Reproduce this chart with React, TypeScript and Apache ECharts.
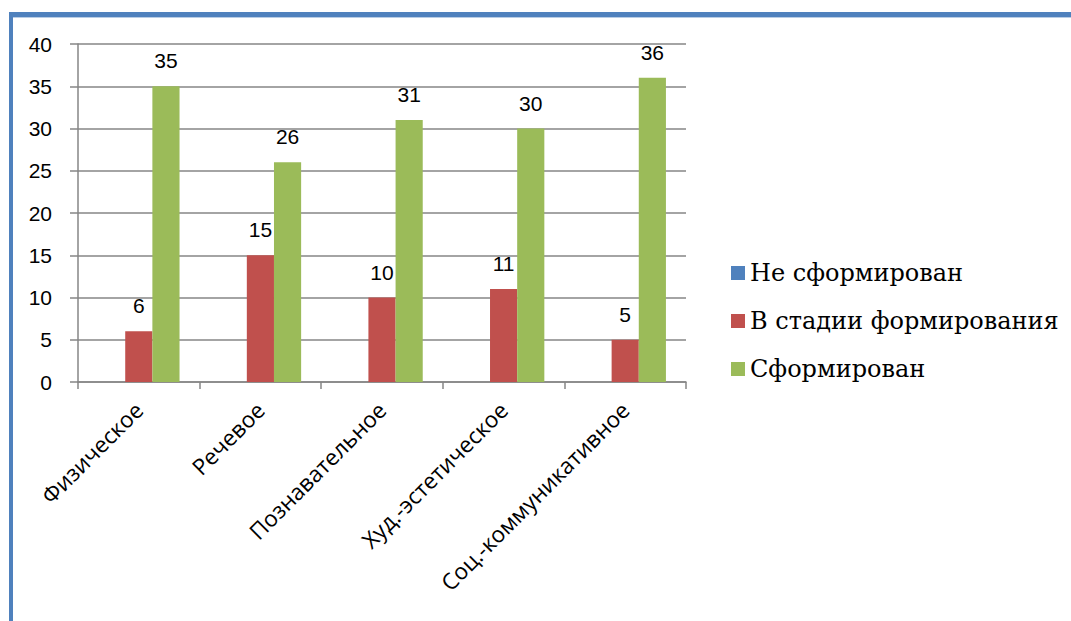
import React, { useEffect, useRef } from "react";
import * as echarts from "echarts";

const categories = ["Физическое", "Речевое", "Познавательное", "Худ.-эстетическое", "Соц.-коммуникативное"];
const seriesNames = ["Не сформирован", "В стадии формирования", "Сформирован"];
const notFormed = [0, 0, 0, 0, 0];
const inProgress = [6, 15, 10, 11, 5];
const formed = [35, 26, 31, 30, 36];
const colors = ["#4F81BD", "#C0504D", "#9BBB59"];

export default function App() {
  const ref = useRef<HTMLDivElement>(null);
  useEffect(() => {
    document.body.style.margin = "0";
    const chart = echarts.init(ref.current!, null, { renderer: "svg" });
    const axisFont = "Liberation Sans";
    const legendFont = "DejaVu Serif";
    const label = (show: boolean) => ({
      show,
      position: "top",
      distance: 15,
      color: "#000",
      fontFamily: axisFont,
      fontSize: 21,
    });
    chart.setOption({
      animation: false,
      backgroundColor: "#fff",
      color: colors,
      grid: { left: 78, right: 385, top: 44, bottom: 239, containLabel: false },
      legend: {
        orient: "vertical",
        left: 726,
        top: 253,
        itemWidth: 14,
        itemHeight: 14,
        itemGap: 18,
        icon: "rect",
        data: seriesNames,
        textStyle: { fontFamily: legendFont, fontSize: 24, color: "#000", lineHeight: 30 },
      },
      xAxis: {
        type: "category",
        data: categories,
        axisLine: { lineStyle: { color: "#868686", width: 1.5 } },
        axisTick: { show: true, length: 7, lineStyle: { color: "#868686", width: 1.5 } },
        axisLabel: { rotate: 45, margin: 24, color: "#000", fontFamily: "Open Sans", fontSize: 22.5, interval: 0 },
      },
      yAxis: {
        type: "value",
        min: 0,
        max: 40,
        interval: 5,
        axisLine: { show: true, lineStyle: { color: "#868686", width: 1.5 } },
        axisTick: { show: true, length: 8, lineStyle: { color: "#868686", width: 1.5 } },
        axisLabel: { margin: 26, color: "#000", fontFamily: axisFont, fontSize: 21 },
        splitLine: { lineStyle: { color: "#868686", width: 1.5 } },
      },
      series: [
        { name: seriesNames[0], type: "bar", data: notFormed, barGap: "0%", barCategoryGap: "33%", label: label(false) },
        { name: seriesNames[1], type: "bar", data: inProgress, barGap: "0%", barCategoryGap: "33%", label: label(true) },
        { name: seriesNames[2], type: "bar", data: formed, barGap: "0%", barCategoryGap: "33%", label: label(true) },
      ],
      graphic: [
        { type: "rect", shape: { x: 9, y: 12, width: 1062, height: 5 }, style: { fill: "#4F81BD" }, silent: true },
        { type: "rect", shape: { x: 13, y: 17, width: 1058, height: 1 }, style: { fill: "#B9CDE5" }, silent: true },
        { type: "rect", shape: { x: 9, y: 12, width: 4, height: 609 }, style: { fill: "#4F81BD" }, silent: true },
      ],
    });
    return () => chart.dispose();
  }, []);
  return <div ref={ref} style={{ width: 1071, height: 621 }} />;
}
